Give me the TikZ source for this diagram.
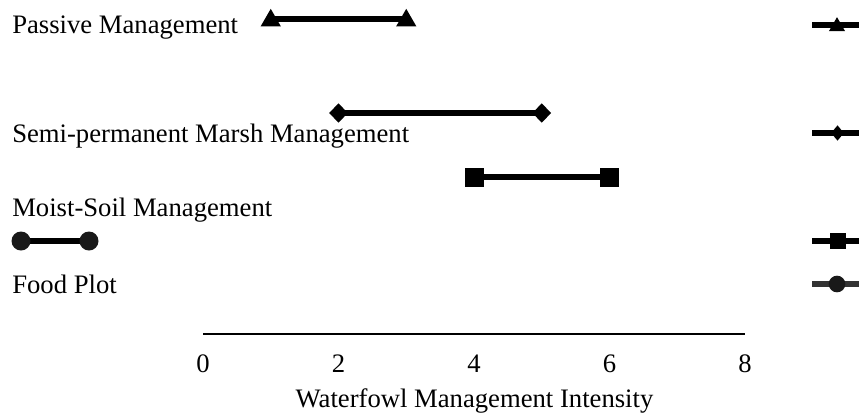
\documentclass[tikz,border=0pt]{standalone}
\usepackage{fontspec}
\setmainfont{Liberation Serif}
\usetikzlibrary{shapes.geometric,backgrounds}
\begin{document}
\begin{tikzpicture}[x=0.75pt,y=-0.75pt,
  lbl/.style={anchor=base west,inner sep=0pt,font=\fontsize{20}{23}\selectfont},
  tick/.style={anchor=base,inner sep=0pt,font=\fontsize{20}{23}\selectfont},
  bar/.style={line width=3.8pt,black},
  tri/.style={regular polygon,regular polygon sides=3,fill=black,inner sep=0pt,outer sep=0pt,minimum size=17.5pt},
  dia/.style={diamond,fill=black,inner sep=0pt,outer sep=0pt,minimum width=14pt,minimum height=14.5pt},
  sq/.style={rectangle,fill=black,inner sep=0pt,outer sep=0pt,minimum size=14.25pt},
  dot/.style={circle,fill=black!90,inner sep=0pt,outer sep=0pt,minimum size=14.25pt},
  ltri/.style={tri,minimum size=14pt},
  ldia/.style={dia,minimum width=9.5pt,minimum height=11.5pt},
  lsq/.style={sq,minimum size=11.5pt},
  ldot/.style={dot,minimum size=12.5pt}]
\useasboundingbox (0,0) rectangle (859,419);
% labels
\node[lbl] (pm) at (12,33) {Passive Management};
\node[lbl] (sm) at (12,142) {Semi-permanent Marsh Management};
\node[lbl] (ms) at (12,216) {Moist-Soil Management};
\node[lbl] (fp) at (12,293) {Food Plot};
% markers
\node[tri] (t1) at (270.75,20.5) {};
\node[tri] (t2) at (406.25,20.5) {};
\node[dia] (d1) at (338.5,113) {};
\node[dia] (d2) at (541.75,113) {};
\node[sq] (s1) at (474,177) {};
\node[sq] (s2) at (609.5,177) {};
\node[dot] (c1) at (21,241) {};
\node[dot] (c2) at (89,241) {};
% legend markers on the right
\node[ltri] (lt) at (837,26.5) {};
\node[ldia] (ld) at (837.5,133) {};
\node[lsq] (ls) at (838,241) {};
\node[ldot] (lc) at (837,284) {};
\coordinate (la1) at (812,25); \coordinate (lb1) at (859,25);
\coordinate (la2) at (812,133); \coordinate (lb2) at (859,133);
\coordinate (la3) at (812,241); \coordinate (lb3) at (859,241);
\coordinate (la4) at (812,284); \coordinate (lb4) at (859,284);
\begin{scope}[on background layer]
  \draw[bar] (t1.center |- 0,19) -- (t2.center |- 0,19);
  \draw[bar] (d1.center) -- (d2.center);
  \draw[bar] (s1.center) -- (s2.center);
  \draw[bar] (c1.center) -- (c2.center);
  \draw[bar] (la1) -- (lb1);
  \draw[bar] (la2) -- (lb2);
  \draw[bar] (la3) -- (lb3);
  \draw[bar,black!80] (la4) -- (lb4);
\end{scope}
% axis
\coordinate (ax0) at (203,334); \coordinate (ax8) at (745,334);
\draw[line width=1.5pt] (ax0) -- (ax8);
\node[tick] (k0) at (203,372) {0};
\node[tick] (k2) at (338.5,372) {2};
\node[tick] (k4) at (474,372) {4};
\node[tick] (k6) at (609.5,372) {6};
\node[tick] (k8) at (745,372) {8};
\node[tick] (xt) at (474.5,407) {Waterfowl Management Intensity};
\end{tikzpicture}
\end{document}
